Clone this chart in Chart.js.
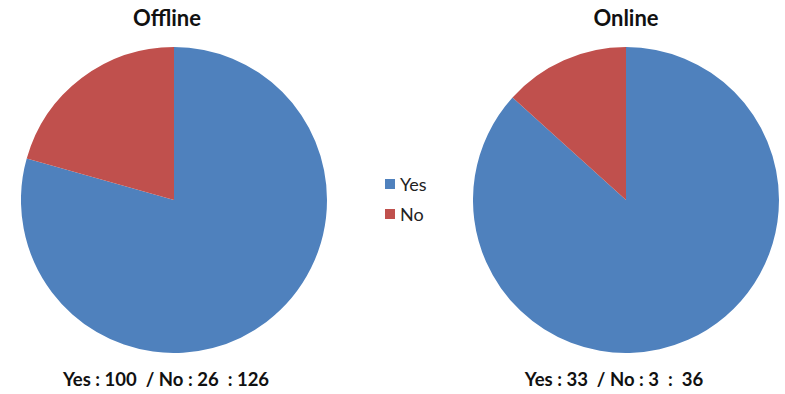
<!DOCTYPE html>
<html>
<head>
<meta charset="utf-8">
<script src="https://cdn.jsdelivr.net/npm/chart.js@4"></script>
<style>
  body { margin: 0; background: #fff; font-family: Lato, "Open Sans", sans-serif; }
  #wrap { position: relative; width: 785px; height: 394px; overflow: hidden; }
  canvas { position: absolute; }
  .title { position: absolute; font-weight: bold; font-size: 22px; color: #111; transform: translateX(-50%); white-space: pre; }
  .foot { position: absolute; font-weight: bold; font-size: 18.5px; color: #111; transform: translateX(-50%); white-space: pre; }
  .legend { position: absolute; left: 385px; top: 169px; font-size: 18px; color: #222; }
  .legend div { height: 30px; display: flex; align-items: center; }
  .legend span.box { width: 10px; height: 10px; margin-right: 5px; display: inline-block; }
</style>
</head>
<body>
<div id="wrap">
  <div class="title" id="t0" style="left:167px; top:4px;"></div>
  <div class="title" id="t1" style="left:626px; top:4px;"></div>
  <canvas id="pie0" width="306" height="306" style="left:21px; top:47px;"></canvas>
  <canvas id="pie1" width="306" height="306" style="left:473px; top:47px;"></canvas>
  <div class="legend" id="legend"></div>
  <div class="foot" id="f0" style="left:166px; top:368px;"></div>
  <div class="foot" id="f1" style="left:614px; top:368px;"></div>
</div>
<script>
// categories and colours
var categories = ['Yes', 'No'];
var colors = ['#4F81BD', '#C0504D'];

// chart titles
var titles = ['Offline', 'Online'];

// slice values as drawn in the picture
var offlineValues = [100, 26];
var onlineValues = [86.7, 13.3];

// caption text under each pie
var offlineCaption = 'Yes : 100  / No : 26  : 126';
var onlineCaption = 'Yes : 33  / No : 3  :  36';

document.getElementById('t0').textContent = titles[0];
document.getElementById('t1').textContent = titles[1];
document.getElementById('f0').textContent = offlineCaption;
document.getElementById('f1').textContent = onlineCaption;

// legend in the middle
var legend = document.getElementById('legend');
categories.forEach(function (c, i) {
    var row = document.createElement('div');
    var box = document.createElement('span');
    box.className = 'box';
    box.style.background = colors[i];
    row.appendChild(box);
    row.appendChild(document.createTextNode(c));
    legend.appendChild(row);
});

function makePie(id, values) {
    return new Chart(document.getElementById(id).getContext('2d'), {
        type: 'pie',
        data: {
            labels: categories,
            datasets: [{
                data: values,
                backgroundColor: colors,
                borderWidth: 0,
            }],
        },
        options: {
            responsive: false,
            animation: false,
            layout: { padding: 0 },
            plugins: {
                legend: { display: false },
                tooltip: { enabled: false }
            }
        }
    });
}

makePie('pie0', offlineValues);
makePie('pie1', onlineValues);
</script>
</body>
</html>
